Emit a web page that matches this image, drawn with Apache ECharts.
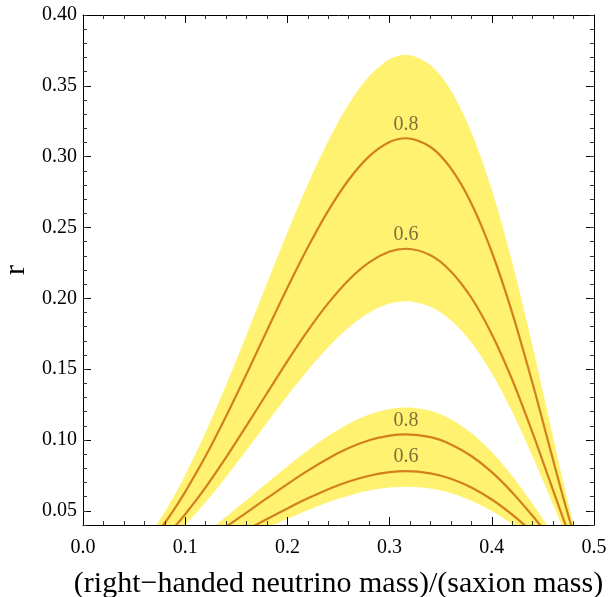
<!DOCTYPE html>
<html>
<head>
<meta charset="utf-8">
<script src="https://cdn.jsdelivr.net/npm/echarts@6/dist/echarts.min.js"></script>
<style>
html,body{margin:0;padding:0;background:#fff;}
#chart{width:610px;height:597px;}
</style>
</head>
<body>
<div id="chart"></div>
<script>
// x values (right-handed neutrino mass / saxion mass)
var xs = [0.05,0.06,0.07,0.08,0.09,0.10,0.12,0.14,0.16,0.18,0.20,0.22,0.24,0.26,0.28,0.30,0.316,0.34,0.36,0.38,0.40,0.42,0.44,0.45,0.46,0.47,0.48,0.49,0.50];

// upper band (r values)
var topBandUpper = [0.0197,0.0282,0.0381,0.0493,0.0617,0.0753,0.1054,0.1388,0.1742,0.2106,0.2465,0.2805,0.3113,0.3372,0.3568,0.3688,0.372,0.3647,0.3467,0.3173,0.2766,0.2255,0.1660,0.1342,0.1020,0.0702,0.0405,0.0151,0];
var topLine08 = [0.0166,0.0237,0.0320,0.0414,0.0519,0.0634,0.0887,0.1168,0.1466,0.1772,0.2074,0.2360,0.2619,0.2837,0.3002,0.3103,0.313,0.3068,0.2917,0.2670,0.2327,0.1897,0.1397,0.1129,0.0858,0.0591,0.0341,0.0127,0];
var topLine06 = [0.0125,0.0178,0.0240,0.0311,0.0390,0.0476,0.0666,0.0877,0.1101,0.1330,0.1557,0.1772,0.1966,0.2130,0.2254,0.2330,0.235,0.2304,0.2190,0.2004,0.1747,0.1425,0.1049,0.0848,0.0644,0.0443,0.0256,0.0096,0];
var topBandLower = [0.0105,0.0150,0.0203,0.0262,0.0328,0.0401,0.0561,0.0739,0.0927,0.1121,0.1312,0.1493,0.1657,0.1795,0.1899,0.1963,0.198,0.1941,0.1845,0.1689,0.1472,0.1200,0.0884,0.0714,0.0543,0.0374,0.0215,0.0081,0];

// lower band (r values)
var lowBandUpper = [0.0065,0.0093,0.0126,0.0163,0.0204,0.0249,0.0349,0.0459,0.0576,0.0696,0.0815,0.0928,0.1029,0.1115,0.1180,0.1219,0.123,0.1206,0.1146,0.1049,0.0915,0.0746,0.0549,0.0444,0.0337,0.0232,0.0134,0.0050,0];
var lowLine08 = [0.0055,0.0079,0.0106,0.0138,0.0173,0.0210,0.0295,0.0388,0.0487,0.0589,0.0689,0.0784,0.0870,0.0943,0.0998,0.1031,0.104,0.1020,0.0969,0.0887,0.0773,0.0630,0.0464,0.0375,0.0285,0.0196,0.0113,0.0042,0];
var lowLine06 = [0.0041,0.0059,0.0080,0.0103,0.0129,0.0158,0.0221,0.0291,0.0365,0.0442,0.0517,0.0588,0.0653,0.0707,0.0748,0.0773,0.078,0.0765,0.0727,0.0665,0.0580,0.0473,0.0348,0.0281,0.0214,0.0147,0.0085,0.0032,0];
var lowBandLower = [0.0036,0.0051,0.0069,0.0089,0.0111,0.0136,0.0190,0.0250,0.0314,0.0379,0.0444,0.0505,0.0561,0.0607,0.0643,0.0664,0.067,0.0657,0.0624,0.0571,0.0498,0.0406,0.0299,0.0242,0.0184,0.0126,0.0073,0.0027,0];

// contour labels: x, r at peak, text
var labelX = [0.316,0.316,0.316,0.316];
var labelR = [0.313,0.235,0.104,0.078];
var labelText = ['0.8','0.6','0.8','0.6'];

// tick labels
var yMajorTicks = [0.05,0.10,0.15,0.20,0.25,0.30,0.35,0.40];

var FONT = 'Liberation Serif';
var YELLOW = '#FFF271';
var ORANGE = '#D2801E';

function pairs(arr){ return xs.map(function(x,i){ return [x, arr[i]]; }); }

function areaSeries(arr, color, z){
  return {type:'line', data:pairs(arr), symbol:'none', smooth:0.3,
    lineStyle:{width:0, opacity:0}, areaStyle:{color:color, opacity:1}, silent:true, z:z};
}
function lineSeries(arr){
  return {type:'line', data:pairs(arr), symbol:'none', smooth:0.3,
    lineStyle:{width:2.2, color:ORANGE}, silent:true, z:6};
}

var axisLineStyle = {show:true, lineStyle:{color:'#000', width:1}};
var chart = echarts.init(document.getElementById('chart'), null, {renderer:'canvas'});
chart.setOption({
  animation:false,
  grid:{left:83, right:16, top:15, bottom:72, containLabel:false, outerBoundsMode:'none'},
  xAxis:[
    {type:'value', position:'bottom', min:0, max:0.5, interval:0.1, z:10,
     name:'(right\u2212handed neutrino mass)/(saxion mass)', nameLocation:'middle', nameGap:44,
     nameTextStyle:{fontFamily:FONT, fontSize:30, color:'#000'},
     axisLine:axisLineStyle,
     axisTick:{show:true, inside:true, length:8, lineStyle:{color:'#000'}},
     minorTick:{show:true, splitNumber:5, length:4, lineStyle:{color:'#333'}},
     axisLabel:{fontFamily:FONT, fontSize:20, color:'#000', margin:13,
       formatter:function(v){ return v.toFixed(1); }},
     splitLine:{show:false}, minorSplitLine:{show:false}},
    {type:'value', position:'top', min:0, max:0.5, interval:0.1, z:10,
     axisLine:axisLineStyle,
     axisTick:{show:true, inside:true, length:8, lineStyle:{color:'#000'}},
     minorTick:{show:true, splitNumber:5, length:4, lineStyle:{color:'#333'}},
     axisLabel:{show:false}, splitLine:{show:false}}
  ],
  yAxis:[
    {type:'value', position:'left', min:0.04, max:0.40, z:10,
     name:'r', nameLocation:'middle', nameGap:51, nameRotate:90,
     nameTextStyle:{fontFamily:FONT, fontSize:30, color:'#000'},
     axisLine:axisLineStyle,
     axisTick:{show:true, inside:true, length:8, customValues:yMajorTicks, lineStyle:{color:'#000'}},
     axisLabel:{fontFamily:FONT, fontSize:20, color:'#000', margin:6, customValues:yMajorTicks,
       formatter:function(v){ return v.toFixed(2); }},
     splitLine:{show:false}},
    {type:'value', position:'left', min:0.04, max:0.40, interval:0.01, z:10,
     axisLine:{show:false},
     axisTick:{show:true, inside:true, length:4, lineStyle:{color:'#333'}},
     axisLabel:{show:false}, splitLine:{show:false}},
    {type:'value', position:'right', min:0.04, max:0.40, z:10,
     axisLine:axisLineStyle,
     axisTick:{show:true, inside:true, length:8, customValues:yMajorTicks, lineStyle:{color:'#000'}},
     axisLabel:{show:false}, splitLine:{show:false}},
    {type:'value', position:'right', min:0.04, max:0.40, interval:0.01, z:10,
     axisLine:{show:false},
     axisTick:{show:true, inside:true, length:4, lineStyle:{color:'#333'}},
     axisLabel:{show:false}, splitLine:{show:false}}
  ],
  series:[
    areaSeries(topBandUpper, YELLOW, 1),
    areaSeries(topBandLower, '#FFFFFF', 2),
    areaSeries(lowBandUpper, YELLOW, 3),
    areaSeries(lowBandLower, '#FFFFFF', 4),
    lineSeries(topLine08),
    lineSeries(topLine06),
    lineSeries(lowLine08),
    lineSeries(lowLine06),
    {type:'scatter', symbolSize:2, silent:true, z:7,
     itemStyle:{color:'rgba(0,0,0,0)'},
     data:labelX.map(function(x,i){ return {value:[x, labelR[i]], name:labelText[i]}; }),
     label:{show:true, position:'top', distance:3, fontFamily:FONT, fontSize:20, color:'#5E4E2E',
       formatter:'{b}'}}
  ]
});
</script>
</body>
</html>
